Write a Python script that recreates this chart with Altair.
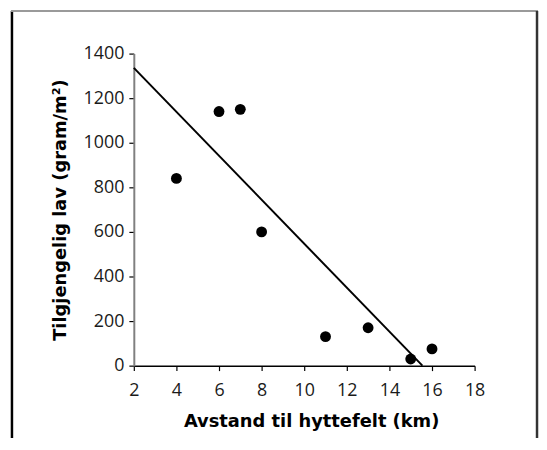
import altair as alt
import pandas as pd

# Observations
distance_km = [4, 6, 7, 8, 11, 13, 15, 16]
lichen_g_m2 = [840, 1140, 1150, 600, 130, 170, 30, 75]

# Fitted trend line endpoints
fit_x = [2, 15.55]
fit_y = [1336, 0]

x_ticks = [2, 4, 6, 8, 10, 12, 14, 16, 18]
y_ticks = [0, 200, 400, 600, 800, 1000, 1200, 1400]

pts = pd.DataFrame({"x": distance_km, "y": lichen_g_m2})
fit = pd.DataFrame({"x": fit_x, "y": fit_y})
one = pd.DataFrame({"k": [0]})

PLOT_W, PLOT_H = 344, 315

xscale = alt.Scale(domain=[2, 18], nice=False, zero=False)
yscale = alt.Scale(domain=[0, 1400], nice=False)

xaxis = alt.Axis(
    values=x_ticks, format="d", title="Avstand til hyttefelt (km)", grid=False,
    domainColor="#000000", domainWidth=1.5, tickColor="#000000", tickWidth=1.2,
    tickSize=5, labelPadding=11, labelFont="Open Sans", labelFontSize=18,
    labelColor="#1a1a1a", titleFont="DejaVu Sans", titleFontSize=18,
    titleFontWeight="bold", titleColor="#000000", titlePadding=13,
    titleX=179, labelFlush=False,
)
yaxis = alt.Axis(
    values=y_ticks, format="d", title="Tilgjengelig lav (gram/m²)", grid=False,
    domainColor="#808080", domainWidth=2, tickColor="#000000", tickWidth=1.2,
    tickSize=5, labelPadding=5, labelFont="Open Sans", labelFontSize=18,
    labelColor="#1a1a1a", titleFont="DejaVu Sans", titleFontSize=18,
    titleFontWeight="bold", titleColor="#000000", titlePadding=14,
    labelFlush=False,
)

points = alt.Chart(pts).mark_circle(size=120, color="#000000", opacity=1).encode(
    x=alt.X("x:Q", scale=xscale, axis=xaxis),
    y=alt.Y("y:Q", scale=yscale, axis=yaxis),
)

line = alt.Chart(fit).mark_line(color="#000000", strokeWidth=2).encode(
    x=alt.X("x:Q", scale=xscale),
    y=alt.Y("y:Q", scale=yscale),
)

# Decorative frame around the figure
left_border = alt.Chart(one).mark_rule(color="#000000", strokeWidth=2.5, clip=False).encode(
    x=alt.value(-123), y=alt.value(-43), y2=alt.value(420)
)
top_border = alt.Chart(one).mark_rule(color="#9a9a9a", strokeWidth=2, clip=False).encode(
    x=alt.value(-124), x2=alt.value(408), y=alt.value(-43)
)
right_border = alt.Chart(one).mark_rule(color="#333333", strokeWidth=2.5, clip=False).encode(
    x=alt.value(407), y=alt.value(-43), y2=alt.value(420)
)

chart = alt.layer(line, points, left_border, top_border, right_border).properties(
    width=PLOT_W, height=PLOT_H,
    autosize=alt.AutoSizeParams(type="none"),
    padding={"left": 127, "top": 44, "right": 65, "bottom": 71},
).configure_view(stroke=None)

chart.save("out.html", embed_options={"renderer": "svg", "actions": False})
